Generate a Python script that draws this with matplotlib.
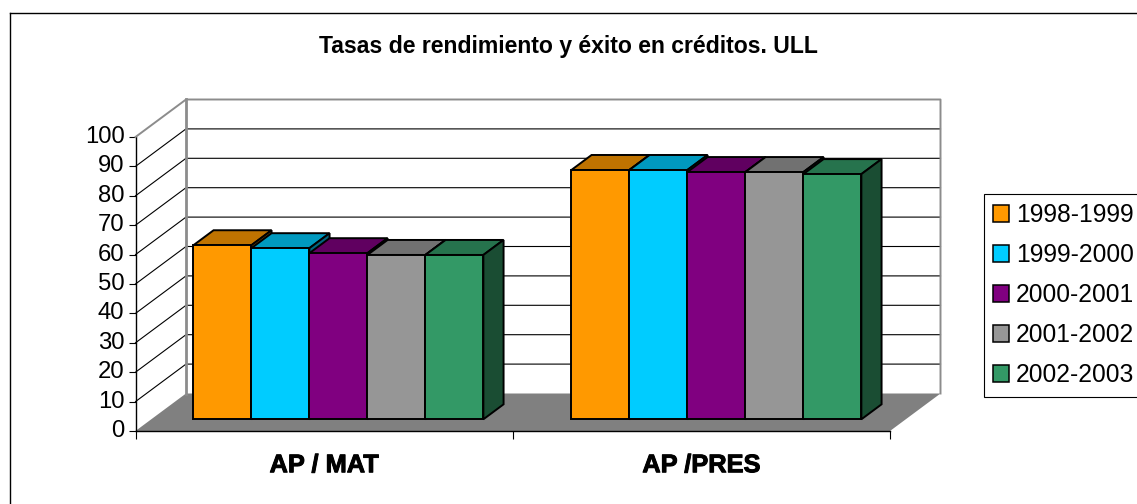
import matplotlib
matplotlib.use('Agg')
import matplotlib.pyplot as plt
import matplotlib.patheffects as pe
from matplotlib.lines import Line2D
from matplotlib.patches import Polygon, Patch
from matplotlib.transforms import ScaledTranslation

plt.rcParams['font.family'] = ['Liberation Sans', 'DejaVu Sans']

# data
categories = ['AP / MAT', 'AP /PRES']
years = ['1998-1999', '1999-2000', '2000-2001', '2001-2002', '2002-2003']
ap_mat = [59.2, 58.2, 56.5, 55.9, 55.9]
ap_pres = [84.8, 84.8, 84.1, 84.1, 83.4]
colors = ['#FF9900', '#00CCFF', '#800080', '#969696', '#339966']
yticks = list(range(0, 101, 10))

W, H = 1137, 504
fig = plt.figure(figsize=(W / 100, H / 100), dpi=100)
ax = fig.add_axes([135.5 / W, (H - 431) / H, 754.5 / W, 294 / H])
ax.set_xlim(0, 2)
ax.set_ylim(0, 100)

# depth of the fake 3d box, in data units
DX = 50.5 / 377.25
DY = 37.5 / 2.94
BAR_W = 58 / 377.25
BAR_D0 = 0.312
BAR_D1 = 0.712
BAR_LW = 1.4


def pr(x, y, d):
    return (x + d * DX, y + d * DY)


def shade(c, f):
    r, g, b = matplotlib.colors.to_rgb(c)
    return (r * f, g * f, b * f)


def poly(pts, fc, ec='none', lw=0, z=1):
    ax.add_patch(Polygon(pts, closed=True, facecolor=fc, edgecolor=ec, linewidth=lw,
                         zorder=z, clip_on=False, joinstyle='miter'))


def line(pts, color, lw, z=2):
    xs, ys = zip(*pts)
    ax.plot(xs, ys, color=color, lw=lw, zorder=z, clip_on=False, solid_capstyle='projecting')


# floor
poly([pr(0, 0, 0), pr(2, 0, 0), pr(2, 0, 1), pr(0, 0, 1)], '#808080', z=1)

# gridlines on the walls
for t in yticks[1:-1]:
    line([pr(0, t, 0), pr(0, t, 1), pr(2, t, 1)], 'black', 0.8, z=2)

# wall edges
line([pr(0, 100, 0), pr(0, 100, 1), pr(2, 100, 1), pr(2, 0, 1)], '#8C8C8C', 1.4, z=3)
line([pr(0, 0, 1), pr(0, 100, 1)], '#8C8C8C', 2.0, z=3)

# bars, left to right so the next front covers the side before it
centers = [0.496, 1.498]
for c, vals in zip(centers, [ap_mat, ap_pres]):
    left = c - 2.5 * BAR_W
    for i, v in enumerate(vals):
        x0 = left + i * BAR_W
        x1 = x0 + BAR_W
        col = colors[i]
        poly([pr(x0, v, BAR_D0), pr(x1, v, BAR_D0), pr(x1, v, BAR_D1), pr(x0, v, BAR_D1)],
             shade(col, 0.75), 'black', BAR_LW, z=4)
        poly([pr(x1, 0, BAR_D0), pr(x1, 0, BAR_D1), pr(x1, v, BAR_D1), pr(x1, v, BAR_D0)],
             shade(col, 0.5), 'black', BAR_LW, z=4)
        poly([pr(x0, 0, BAR_D0), pr(x1, 0, BAR_D0), pr(x1, v, BAR_D0), pr(x0, v, BAR_D0)],
             col, 'black', BAR_LW, z=4)

# axes
for s in ['top', 'right']:
    ax.spines[s].set_visible(False)
ax.spines['left'].set_linewidth(1.0)
ax.spines['bottom'].set_linewidth(1.0)
ax.patch.set_visible(False)
ax.set_yticks(yticks)
ax.tick_params(axis='y', labelsize=17.2, length=5, width=0.8, pad=3)
for lab in ax.get_yticklabels():
    lab.set_transform(lab.get_transform() + ScaledTranslation(0, 2.5 / 100, fig.dpi_scale_trans))
ax.set_xticks([0, 1, 2])
ax.set_xticklabels(['', '', ''])
ax.tick_params(axis='x', which='major', length=5.5, width=0.8)
ax.set_xticks([0.5, 1.5], minor=True)
ax.set_xticklabels(categories, minor=True, fontweight='bold', fontsize=18.3,
                   path_effects=[pe.withStroke(linewidth=0.7, foreground='black')])
ax.tick_params(axis='x', which='minor', length=0, pad=16)

fig.text(568.5 / W, 1 - 46 / H, 'Tasas de rendimiento y éxito en créditos. ULL',
         ha='center', va='center', fontweight='bold', fontsize=16.6)

# outer frame, cut off on the right and bottom in the source
fig.add_artist(Line2D([9.5 / W, 9.5 / W], [0, 1 - 13 / H], color='black', lw=1.0))
fig.add_artist(Line2D([9.5 / W, 1], [1 - 13 / H, 1 - 13 / H], color='black', lw=1.0))

handles = [Patch(facecolor=c, edgecolor='black', linewidth=1.1) for c in colors]
leg = fig.legend(handles, years, loc='upper left', bbox_to_anchor=(983.5 / W, 1 - 193.5 / H),
                 fontsize=17.7, frameon=True, fancybox=False, framealpha=1, edgecolor='black',
                 handlelength=0.65, handleheight=0.65, handletextpad=0.28,
                 labelspacing=0.65, borderpad=0.4, borderaxespad=0)
leg.get_frame().set_linewidth(0.8)

fig.savefig('out.png', dpi=100, facecolor='white')
